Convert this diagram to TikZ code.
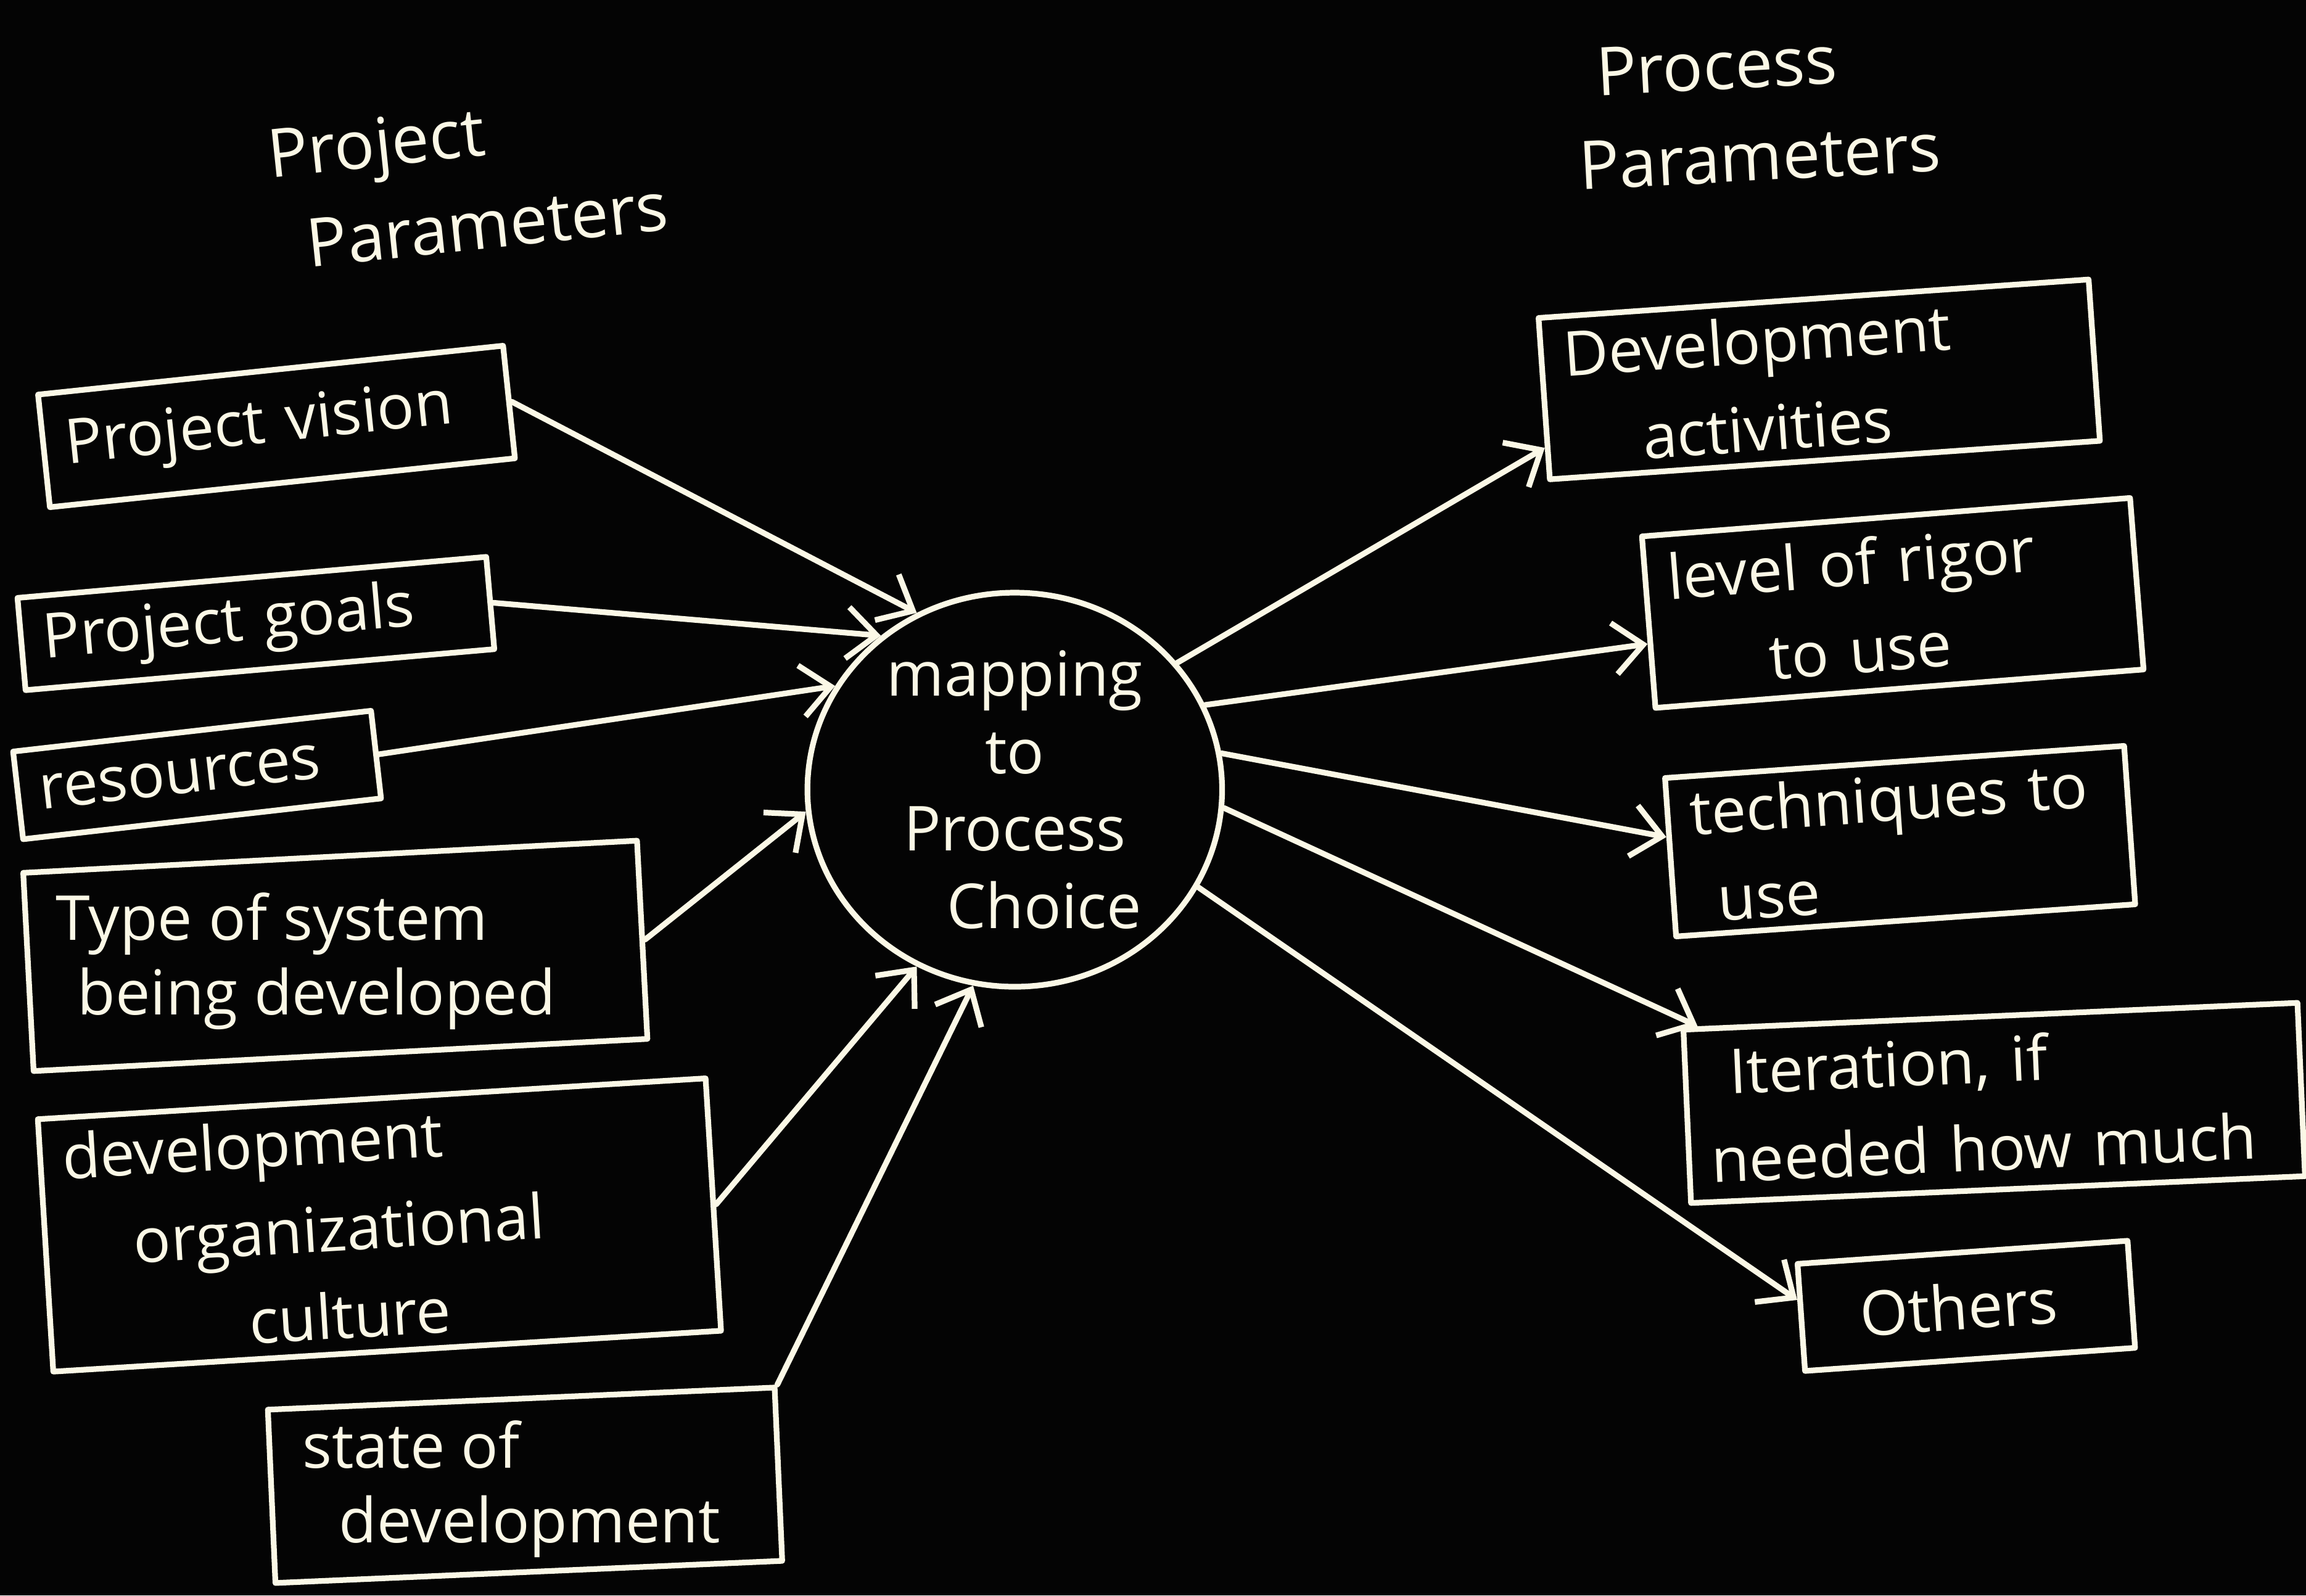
\documentclass[tikz,border=0pt]{standalone}
\usepackage{fontspec}
\setmainfont{Open Sans}
\usetikzlibrary{arrows.meta,shapes.geometric}
\definecolor{chalk}{HTML}{FBF8E6}
\definecolor{board}{HTML}{040404}
\tikzset{
  chalkline/.style={draw=chalk, line width=2.2pt, line cap=round, line join=round},
  pbox/.style={chalkline, rectangle, text=chalk, align=left, inner xsep=0.3cm, inner ysep=0.05cm,
    font=\fontsize{24}{34}\selectfont},
  boxtext/.style={text=chalk, align=left, inner sep=0pt, font=\fontsize{24}{29}\selectfont},
  hub/.style={chalkline, ellipse, text=chalk, align=center, inner sep=0pt,
    minimum width=5.64cm, minimum height=5.32cm, font=\fontsize{24}{30}\selectfont},
  feed/.style={chalkline, -{Straight Barb[length=0.4cm, width=0.7cm, line width=2.2pt]}},
  heading/.style={text=chalk, align=left, font=\fontsize{26}{36}\selectfont}
}
\begin{document}
\begin{tikzpicture}[x=0.02cm, y=-0.02cm]
  % board
  \fill[board] (0,0) rectangle (1568,1085);
  \useasboundingbox (0,0) rectangle (1568,1085);

  % headings
  \node[heading, rotate=6] (hleft) at (318,122) {Project\\\hspace{0.4cm}Parameters};
  \node[heading, rotate=3] (hright) at (1195,75) {\hspace{0.3cm}Process\\Parameters};

  % central choice
  \node[hub] (c) at (690,537) {mapping\\to\\Process\\\hspace{0.8cm}Choice};

  % project parameters
  \node[pbox, rotate=6, text width=5.76cm, minimum height=1.54cm] (b1) at (188,290) {Project vision};
  \node[pbox, rotate=5, text width=5.8cm, minimum height=1.26cm] (b2) at (174,424) {Project goals};
  \node[pbox, rotate=6.5, text width=4.3cm, minimum height=1.2cm] (b3) at (134,527) {resources};
  \node[pbox, rotate=3, minimum width=8.36cm, minimum height=2.7cm] (b4) at (228,650) {};
  \node[boxtext, anchor=west] (t4) at ([xshift=0.4cm, yshift=0.15cm]b4.west) {Type of system\\\hspace{0.3cm}being developed};
  \node[pbox, rotate=3.5, text width=8.5cm, minimum height=3.44cm] (b5) at (258,833) {development\\\hspace{0.9cm}organizational\\\hspace{2.4cm}culture};
  \node[pbox, rotate=2.5, minimum width=6.9cm, minimum height=2.36cm] (b6) at (357,1010) {};
  \node[boxtext, anchor=west] (t6) at ([xshift=0.45cm, yshift=0.1cm]b6.west) {state of\\\hspace{0.5cm}development};

  % process parameters
  \node[pbox, rotate=4, text width=6.9cm, minimum height=2.2cm] (r1) at (1237,258) {Development\\\hspace{1.0cm}activities};
  \node[pbox, rotate=4.5, text width=6.06cm, minimum height=2.34cm] (r2) at (1287,410) {level of rigor\\\hspace{1.3cm}to use};
  \node[pbox, rotate=4, text width=5.66cm, minimum height=2.16cm] (r3) at (1292,572) {techniques to\\\hspace{0.3cm}use};
  \node[pbox, rotate=2.5, text width=7.76cm, minimum height=2.36cm] (r4) at (1356,750) {\hspace{0.3cm}Iteration, if\\needed how much};
  \node[pbox, rotate=4, text width=3.9cm, minimum height=1.46cm] (r5) at (1337,888) {\hspace{0.5cm}Others};

  % inputs to the choice
  \draw[feed] (b1.east) -- (c.119);
  \draw[feed] (b2.east) -- (c.131);
  \draw[feed] (b3.east) -- (c.150);
  \draw[feed] (b4.east) -- (c.186);
  \draw[feed] (b5.east) -- (c.241);
  \draw[feed] (b6.north east) -- (c.258);

  % outputs of the choice
  \draw[feed] (c.38) -- (r1.190);
  \draw[feed] (c.24) -- (r2.185);
  \draw[feed] (c.10) -- (r3.175);
  \draw[feed] (c.355) -- (r4.163);
  \draw[feed] (c.332) -- (r5.174);
\end{tikzpicture}
\end{document}
